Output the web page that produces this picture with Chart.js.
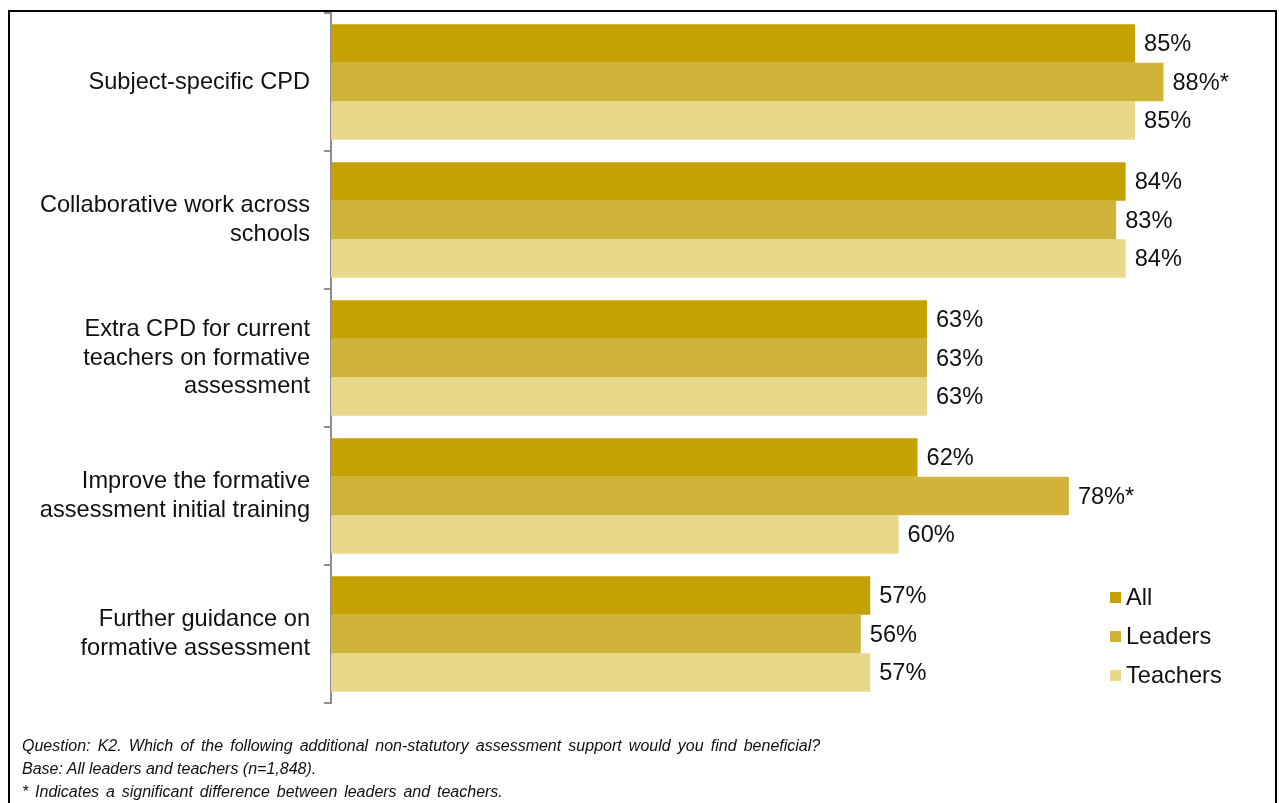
<!DOCTYPE html>
<html>
<head>
<meta charset="utf-8">
<script src="https://cdn.jsdelivr.net/npm/chart.js@4.4.1/dist/chart.umd.min.js"></script>
<style>
  body { margin: 0; background: #fff; }
  #wrap { position: relative; width: 1279px; height: 803px; overflow: hidden; }
  #frame { position: absolute; left: 8px; top: 10px; width: 1265px; height: 820px; border: 2px solid #000; }
  #myChart { position: absolute; left: 0; top: 0; }
  .note { position: absolute; left: 22px; font: italic 16px "Liberation Sans", Arial, sans-serif; color: #111; white-space: nowrap; }
</style>
</head>
<body>
<div id="wrap">
  <div id="frame"></div>
  <canvas id="myChart" width="1279" height="803"></canvas>
  <div class="note" style="top:737px; word-spacing:2.7px">Question: K2. Which of the following additional non-statutory assessment support would you find beneficial?</div>
  <div class="note" style="top:760px">Base: All leaders and teachers (n=1,848).</div>
  <div class="note" style="top:783px; word-spacing:2.4px">* Indicates a significant difference between leaders and teachers.</div>
</div>
<script>
const categories = [
  "Subject-specific CPD",
  ["Collaborative work across", "schools"],
  ["Extra CPD for current", "teachers on formative", "assessment"],
  ["Improve the formative", "assessment initial training"],
  ["Further guidance on", "formative assessment"]
];
const allValues = [85, 84, 63, 62, 57];
const leaderValues = [88, 83, 63, 78, 56];
const teacherValues = [85, 84, 63, 60, 57];
// significant difference between leaders and teachers
const leaderStar = [true, false, false, true, false];

const FONT = '"Liberation Sans", Arial, sans-serif';
const SIZE = 23.6;

// value labels at the end of each bar
const valueLabels = {
  id: 'valueLabels',
  afterDatasetsDraw(chart) {
    const c = chart.ctx;
    c.save();
    c.font = SIZE + 'px ' + FONT;
    c.fillStyle = '#111';
    c.textBaseline = 'middle';
    c.textAlign = 'left';
    chart.data.datasets.forEach((ds, i) => {
      chart.getDatasetMeta(i).data.forEach((bar, j) => {
        let txt = ds.data[j] + '%';
        if (ds.stars && ds.stars[j]) txt += '*';
        c.fillText(txt, bar.x + 9, bar.y + 1);
      });
    });
    c.restore();
  }
};

// legend in the lower right of the plot
const boxLegend = {
  id: 'boxLegend',
  afterDraw(chart) {
    const c = chart.ctx;
    c.save();
    c.font = SIZE + 'px ' + FONT;
    c.textBaseline = 'middle';
    chart.data.datasets.forEach((ds, i) => {
      const y = 597 + i * 39;
      c.fillStyle = ds.backgroundColor;
      c.fillRect(1110, y - 5, 11, 11);
      c.fillStyle = '#111';
      c.fillText(ds.label, 1126, y + 1);
    });
    c.restore();
  }
};

new Chart(document.getElementById('myChart'), {
  type: 'bar',
  data: {
    labels: categories,
    datasets: [
      { label: 'All', data: allValues, backgroundColor: '#C4A204' },
      { label: 'Leaders', data: leaderValues, backgroundColor: '#D0B43A', stars: leaderStar },
      { label: 'Teachers', data: teacherValues, backgroundColor: '#E8D98A' }
    ]
  },
  options: {
    indexAxis: 'y',
    responsive: false,
    animation: false,
    events: [],
    layout: { padding: { top: 13, bottom: 100, right: 2, left: 0 } },
    datasets: { bar: { categoryPercentage: 0.837, barPercentage: 1 } },
    scales: {
      x: { display: false, min: 0, max: 100 },
      y: {
        afterFit(s) { s.width = 331; s.paddingTop = 0; s.paddingBottom = 0; },
        border: { color: '#8c8c8c', width: 2 },
        grid: { drawOnChartArea: false, offset: true, tickLength: 7, color: '#8c8c8c', lineWidth: 2 },
        ticks: { padding: 14, color: '#111', font: { family: FONT, size: SIZE, lineHeight: 1.19 } }
      }
    },
    plugins: { legend: { display: false }, tooltip: { enabled: false } }
  },
  plugins: [valueLabels, boxLegend]
});
</script>
</body>
</html>
